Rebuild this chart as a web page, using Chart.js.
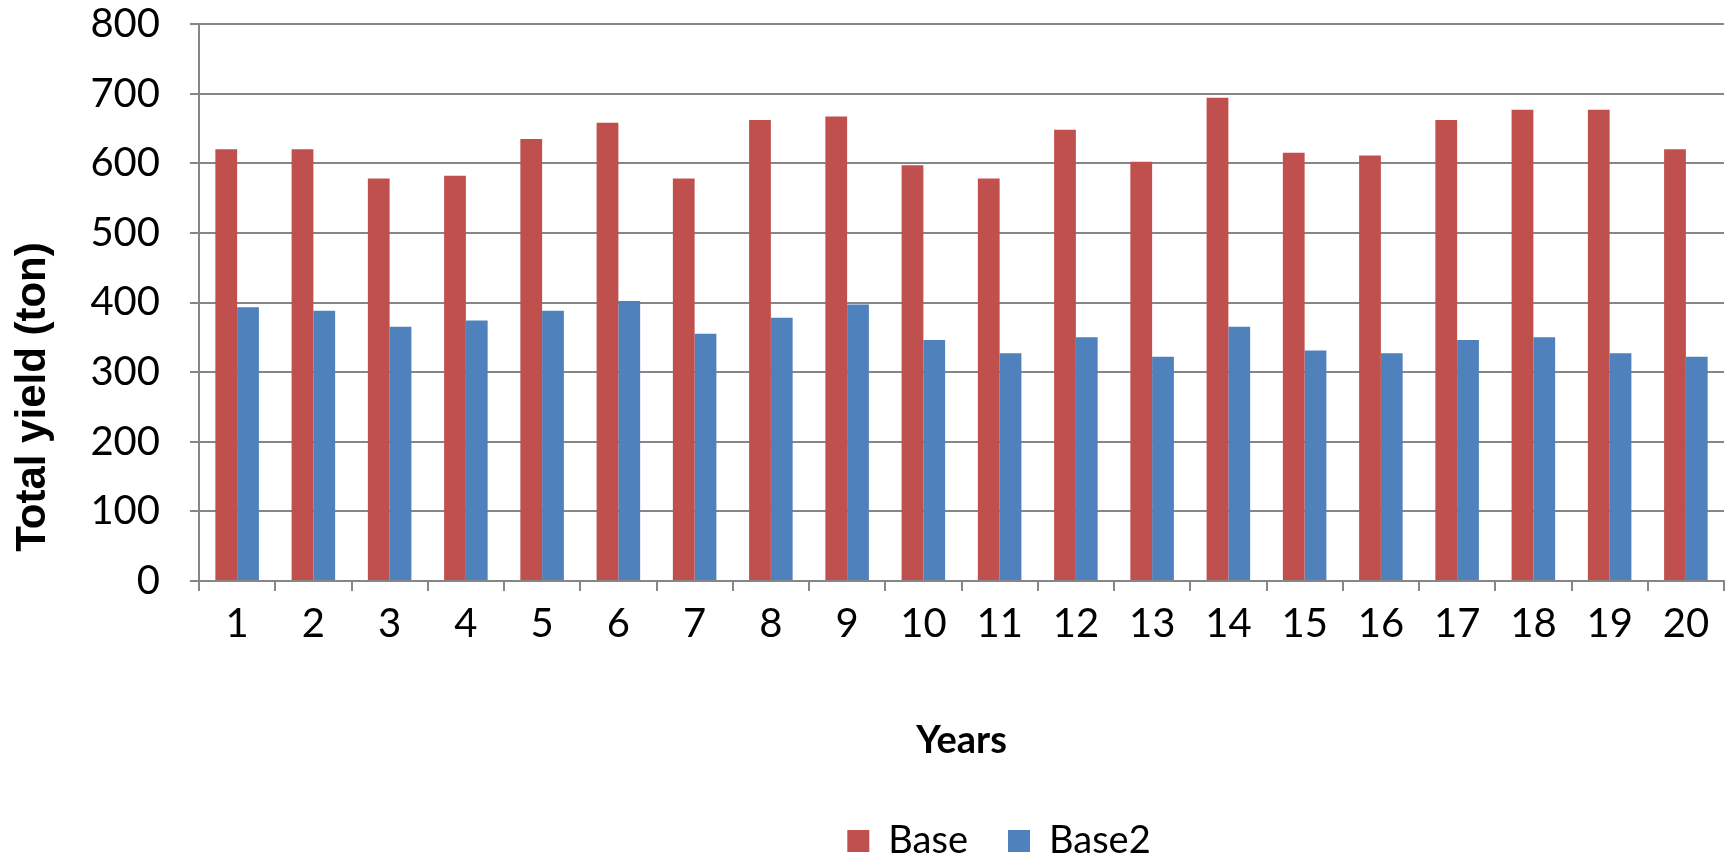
<!DOCTYPE html>
<html>
<head>
<meta charset="utf-8">
<title>Total yield</title>
<script src="https://cdn.jsdelivr.net/npm/chart.js@4.4.0/dist/chart.umd.min.js"></script>
<style>
  html, body { margin: 0; padding: 0; background: #ffffff; }
  #wrap { width: 1730px; height: 858px; position: relative; }
</style>
</head>
<body>
<div id="wrap"><canvas id="chart"></canvas></div>
<script>
// data
const years = ['1','2','3','4','5','6','7','8','9','10','11','12','13','14','15','16','17','18','19','20'];
const baseValues = [620, 620, 578, 582, 635, 658, 578, 662, 667, 597, 578, 648, 602, 694, 615, 611, 662, 677, 677, 620];
const base2Values = [393, 388, 365, 374, 388, 402, 355, 378, 397, 346, 327, 350, 322, 365, 331, 327, 346, 350, 327, 322];
const yTicks = [0, 100, 200, 300, 400, 500, 600, 700, 800];

const gridGrey = '#868686';
const tickFont = { family: 'Lato, "Open Sans", sans-serif', size: 40 };
const legendGap = 40;
const legendFontSize = 38;

// y axis title is centred on the whole picture, not the plot, so draw it here
const yTitlePlugin = {
  id: 'yTitle',
  afterDraw: function(chart) {
    const c = chart.ctx;
    c.save();
    c.translate(33, 397);
    c.rotate(-Math.PI / 2);
    c.font = 'bold 42px Arial';
    c.fillStyle = '#000000';
    c.textAlign = 'center';
    c.textBaseline = 'middle';
    c.fillText('Total yield (ton)', 0, 0);
    c.restore();
  }
};

// legend sits right of centre and near the bottom edge in the original
const legendShift = {
  id: 'legendShift',
  afterLayout: function(chart) {
    if (chart.legend) {
      chart.legend.left += 137;
      chart.legend.right += 137;
      chart.legend.top = 841 - legendGap - legendFontSize / 2;
    }
  }
};

const ctx = document.getElementById('chart');
new Chart(ctx, {
  type: 'bar',
  data: {
    labels: years,
    datasets: [
      {
        label: 'Base',
        data: baseValues,
        backgroundColor: '#C0504D',
        borderWidth: 0,
        barPercentage: 1.0,
        categoryPercentage: 0.571
      },
      {
        label: 'Base2',
        data: base2Values,
        backgroundColor: '#4F81BD',
        borderWidth: 0,
        barPercentage: 1.0,
        categoryPercentage: 0.571
      }
    ]
  },
  options: {
    responsive: true,
    maintainAspectRatio: false,
    animation: false,
    layout: {
      padding: { top: 24, right: 6, bottom: 0, left: 0 }
    },
    scales: {
      x: {
        offset: true,
        afterFit: function(axis) {
          axis.height = 217;
        },
        grid: {
          offset: true,
          drawOnChartArea: false,
          drawTicks: true,
          tickLength: 10,
          color: gridGrey,
          lineWidth: 2
        },
        border: { color: gridGrey, width: 2 },
        ticks: {
          font: tickFont,
          color: '#000000',
          padding: 9,
          maxRotation: 0,
          autoSkip: false
        },
        title: {
          display: true,
          text: 'Years',
          font: { family: 'Lato, "Open Sans", sans-serif', size: 38, weight: 'bold' },
          color: '#000000',
          padding: { top: 0, bottom: 34 }
        }
      },
      y: {
        min: 0,
        max: 800,
        afterBuildTicks: function(axis) {
          axis.ticks = yTicks.map(function(v) { return { value: v }; });
        },
        afterFit: function(axis) {
          axis.width = 199;
          // tick padding would otherwise push the plot top down
          axis.paddingTop = 0;
          axis.paddingBottom = 0;
        },
        grid: {
          color: gridGrey,
          lineWidth: 2,
          tickLength: 9
        },
        border: { color: gridGrey, width: 2 },
        ticks: {
          font: tickFont,
          color: '#000000',
          padding: 30
        }
      }
    },
    plugins: {
      legend: {
        position: 'bottom',
        maxHeight: 60,
        labels: {
          font: { family: 'Lato, "Open Sans", sans-serif', size: legendFontSize },
          color: '#000000',
          boxWidth: 22,
          boxHeight: 22,
          padding: legendGap
        }
      },
      tooltip: { enabled: false }
    }
  },
  plugins: [yTitlePlugin, legendShift]
});
</script>
</body>
</html>
